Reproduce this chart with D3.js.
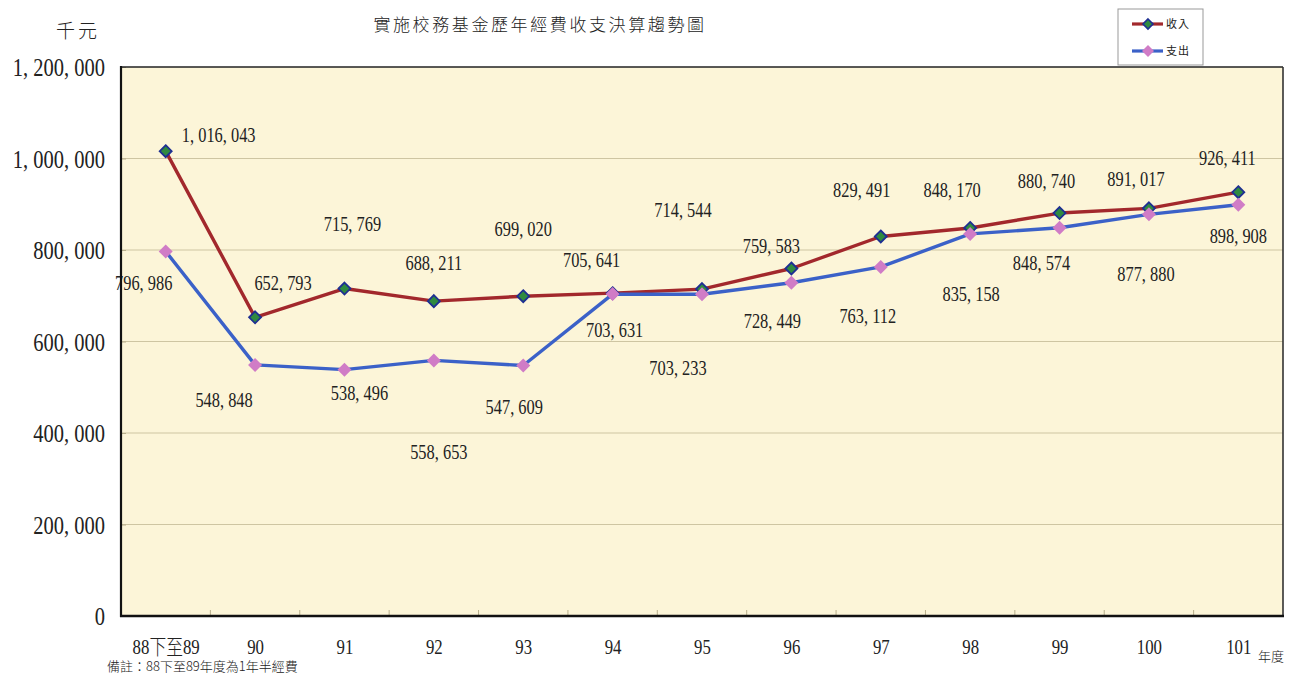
<!DOCTYPE html>
<html><head><meta charset="utf-8">
<script src="https://cdn.jsdelivr.net/npm/d3@7"></script>
<style>
html,body{margin:0;padding:0;background:#fff;}
svg{display:block;}
</style></head>
<body>
<svg id="chart" width="1297" height="675"></svg>
<script>
// ---- data ----
const categories = ["88下至89","90","91","92","93","94","95","96","97","98","99","100","101"];
const income  = [1016043, 652793, 715769, 688211, 699020, 705641, 714544, 759583, 829491, 848170, 880740, 891017, 926411];
const expense = [796986, 548848, 538496, 558653, 547609, 703631, 703233, 728449, 763112, 835158, 848574, 877880, 898908];
const yTicks = [0, 200000, 400000, 600000, 800000, 1000000, 1200000];
const seriesNames = ["收入", "支出"];
const title = "實施校務基金歷年經費收支決算趨勢圖";
const yUnit = "千元";
const xUnit = "年度";
const note = "備註：88下至89年度為1年半經費";

// ---- layout (label offsets from their points, in px) ----
const incomeLabelOffset = [[53,-16],[28,-34],[8,-64],[0,-38],[0,-67],[-21,-33],[-19,-79],[-20,-22],[-19,-46],[-18,-38],[-13,-32],[-13,-29],[-11,-34]];
const expenseLabelOffset = [[-22,32],[-31,35],[15,24],[5,92],[-9,42],[2,36],[-24,74],[-19,38],[-13,49],[1,60],[-18,35],[-3,60],[0,31]];

const L = 121, R = 1283, T = 67, B = 616;
const svg = d3.select("#chart");
const serif = "'Liberation Serif','Noto Sans CJK TC',serif";
const cjk = "'Noto Sans CJK TC','Noto Sans CJK SC',sans-serif";

const x = d3.scalePoint().domain(categories).range([L, R]).padding(0.5);
const y = d3.scaleLinear().domain([0, 1200000]).range([B, T]);
const fmt = v => d3.format(",")(v).replace(/,/g, ", ");

// plot background
svg.append("rect").attr("x", L).attr("y", T).attr("width", R - L).attr("height", B - T).attr("fill", "#FCF5D8");

// gridlines
svg.append("g").selectAll("line").data(yTicks.filter(v => v > 0 && v < 1200000)).join("line")
  .attr("x1", L).attr("x2", R).attr("y1", d => y(d)).attr("y2", d => y(d))
  .attr("stroke", "#CEC5A2").attr("stroke-width", 1.2);

// y axis
const yAxis = svg.append("g").attr("transform", `translate(${L},0)`)
  .call(d3.axisLeft(y).tickValues(yTicks).tickSizeInner(-5).tickSizeOuter(0).tickFormat(fmt));
yAxis.select(".domain").remove();
yAxis.selectAll(".tick line").attr("stroke", "#B8AF8C");
yAxis.selectAll(".tick text")
  .attr("x", null).attr("dy", "0.34em")
  .attr("transform", "translate(-16,0) scale(0.82,1)")
  .attr("font-family", serif).attr("font-size", 25).attr("fill", "#222").attr("text-anchor", "end");

// x axis
const xAxis = svg.append("g").attr("transform", `translate(0,${B})`)
  .call(d3.axisBottom(x).tickSize(0).tickPadding(0));
xAxis.select(".domain").remove();
xAxis.selectAll(".tick text")
  .attr("y", null).attr("dy", null)
  .attr("transform", "translate(0,38) scale(0.8,1)")
  .attr("font-family", serif).attr("font-size", 21).attr("font-weight", 300)
  .attr("fill", "#222").attr("text-anchor", "middle");

// category boundary ticks
const step = x.step();
svg.append("g").selectAll("line").data(categories.slice(0, -1)).join("line")
  .attr("x1", d => x(d) + step / 2).attr("x2", d => x(d) + step / 2)
  .attr("y1", B).attr("y2", B - 6)
  .attr("stroke", "#B8AF8C").attr("stroke-width", 1);

// lines
const line = d3.line().x((d, i) => x(categories[i])).y(d => y(d));
svg.append("path").datum(income).attr("d", line).attr("fill", "none")
  .attr("stroke", "#A2282C").attr("stroke-width", 3.4).attr("stroke-linejoin", "round");
svg.append("path").datum(expense).attr("d", line).attr("fill", "none")
  .attr("stroke", "#3B61C8").attr("stroke-width", 3.4).attr("stroke-linejoin", "round");

// markers
const diamond = r => `M0,${-r}L${r},0L0,${r}L${-r},0Z`;
svg.append("g").selectAll("path").data(income).join("path")
  .attr("d", diamond(6)).attr("transform", (d, i) => `translate(${x(categories[i])},${y(d)})`)
  .attr("fill", "#2F8A40").attr("stroke", "#1E2F92").attr("stroke-width", 1.8);
svg.append("g").selectAll("path").data(expense).join("path")
  .attr("d", diamond(7)).attr("transform", (d, i) => `translate(${x(categories[i])},${y(d)})`)
  .attr("fill", "#D07CC6");

// data labels
function labels(data, offs) {
  svg.append("g").selectAll("text").data(data).join("text")
    .attr("transform", (d, i) => `translate(${x(categories[i]) + offs[i][0]},${y(d) + offs[i][1]}) scale(0.82,1)`)
    .attr("dy", "0.34em").attr("text-anchor", "middle")
    .attr("font-family", serif).attr("font-size", 20).attr("fill", "#222")
    .text(d => fmt(d));
}
labels(income, incomeLabelOffset);
labels(expense, expenseLabelOffset);

// plot border
svg.append("line").attr("x1", L).attr("x2", R).attr("y1", T).attr("y2", T).attr("stroke", "#222").attr("stroke-width", 1.6);
svg.append("line").attr("x1", R).attr("x2", R).attr("y1", T).attr("y2", B).attr("stroke", "#333").attr("stroke-width", 1.6);
svg.append("line").attr("x1", L).attr("x2", L).attr("y1", T - 1).attr("y2", B + 1).attr("stroke", "#111").attr("stroke-width", 2.2);
svg.append("line").attr("x1", L - 1).attr("x2", R + 1).attr("y1", B).attr("y2", B).attr("stroke", "#111").attr("stroke-width", 2.6);

// title, units, note
svg.append("text").attr("x", 540).attr("y", 31).attr("text-anchor", "middle")
  .attr("font-family", cjk).attr("font-size", 17).attr("font-weight", 300).attr("letter-spacing", 2.6).attr("fill", "#222").text(title);
svg.append("text").attr("x", 100).attr("y", 38).attr("text-anchor", "end")
  .attr("font-family", cjk).attr("font-size", 19).attr("font-weight", 300).attr("letter-spacing", 3).attr("fill", "#222").text(yUnit);
svg.append("text").attr("x", 1258).attr("y", 661)
  .attr("font-family", cjk).attr("font-size", 13).attr("font-weight", 300).attr("fill", "#222").text(xUnit);
svg.append("text").attr("x", 107).attr("y", 671)
  .attr("font-family", cjk).attr("font-size", 13).attr("font-weight", 300).attr("fill", "#222").text(note);

// legend
const lg = svg.append("g");
lg.append("rect").attr("x", 1118).attr("y", 9).attr("width", 85).attr("height", 56)
  .attr("fill", "#fff").attr("stroke", "#999").attr("stroke-width", 1);
const legendItems = [
  {name: seriesNames[0], stroke: "#A2282C", fill: "#2F8A40", mstroke: "#1E2F92", r: 5},
  {name: seriesNames[1], stroke: "#3B61C8", fill: "#D07CC6", mstroke: "none", r: 6}
];
legendItems.forEach((it, i) => {
  const yy = 24 + i * 27;
  lg.append("line").attr("x1", 1132).attr("x2", 1163).attr("y1", yy).attr("y2", yy)
    .attr("stroke", it.stroke).attr("stroke-width", 3.2);
  lg.append("path").attr("d", diamond(it.r)).attr("transform", `translate(1148,${yy})`)
    .attr("fill", it.fill).attr("stroke", it.mstroke).attr("stroke-width", 1.6);
  lg.append("text").attr("x", 1166).attr("y", yy).attr("dy", "0.35em")
    .attr("font-family", cjk).attr("font-size", 11).attr("letter-spacing", 1).attr("fill", "#222").text(it.name);
});
</script>
</body></html>
